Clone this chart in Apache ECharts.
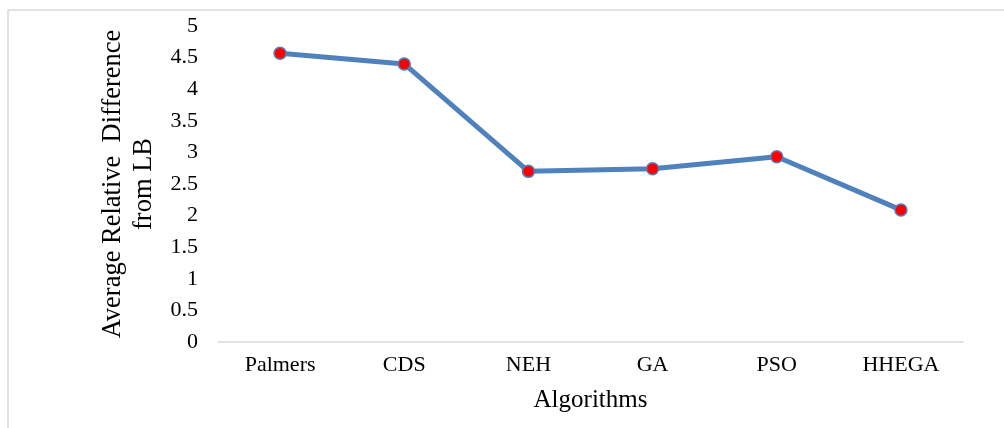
<!DOCTYPE html>
<html>
<head>
<meta charset="utf-8">
<script src="https://cdn.jsdelivr.net/npm/echarts@6/dist/echarts.min.js"></script>
<style>
html,body{margin:0;padding:0;background:#fff;}
#chart{width:1004px;height:428px;}
</style>
</head>
<body>
<div id="chart"></div>
<script>
const categories = ['Palmers', 'CDS', 'NEH', 'GA', 'PSO', 'HHEGA'];
const values = [4.57, 4.40, 2.70, 2.74, 2.93, 2.09];
const yTicks = { min: 0, max: 5, interval: 0.5 };
const xTitle = 'Algorithms';
const yTitle = 'Average Relative  Difference\nfrom LB';

const font = '"Liberation Serif", "Times New Roman", serif';
const chart = echarts.init(document.getElementById('chart'), null, { renderer: 'canvas' });
chart.setOption({
  animation: false,
  backgroundColor: '#fff',
  graphic: [{
    type: 'rect',
    shape: { x: 8, y: 10, width: 1200, height: 600 },
    style: { fill: 'none', stroke: '#d9d9d9', lineWidth: 1.5 },
    silent: true, z: -1
  }],
  grid: { left: 218, right: 41, top: 26, bottom: 86, containLabel: false },
  xAxis: {
    type: 'category',
    data: categories,
    boundaryGap: true,
    name: xTitle,
    nameLocation: 'middle',
    nameGap: 46,
    nameTextStyle: { fontFamily: font, fontSize: 25, color: '#000' },
    axisLine: { show: true, lineStyle: { color: '#d9d9d9', width: 1.5 } },
    axisTick: { show: false },
    axisLabel: { fontFamily: font, fontSize: 22, color: '#000', margin: 12 },
    splitLine: { show: false }
  },
  yAxis: {
    type: 'value',
    min: yTicks.min, max: yTicks.max, interval: yTicks.interval,
    name: yTitle,
    nameLocation: 'middle',
    nameRotate: 90,
    nameGap: 57,
    nameTextStyle: { fontFamily: font, fontSize: 26.5, color: '#000', lineHeight: 31 },
    axisLine: { show: false },
    axisTick: { show: false },
    axisLabel: { fontFamily: font, fontSize: 22, color: '#000', margin: 20 },
    splitLine: { show: false }
  },
  series: [{
    type: 'line',
    data: values,
    lineStyle: { color: '#4f81bd', width: 5 },
    symbol: 'circle',
    symbolSize: 12,
    itemStyle: { color: '#ff0000', borderColor: '#4f81bd', borderWidth: 1.5 },
    emphasis: { disabled: true }
  }]
});
</script>
</body>
</html>
